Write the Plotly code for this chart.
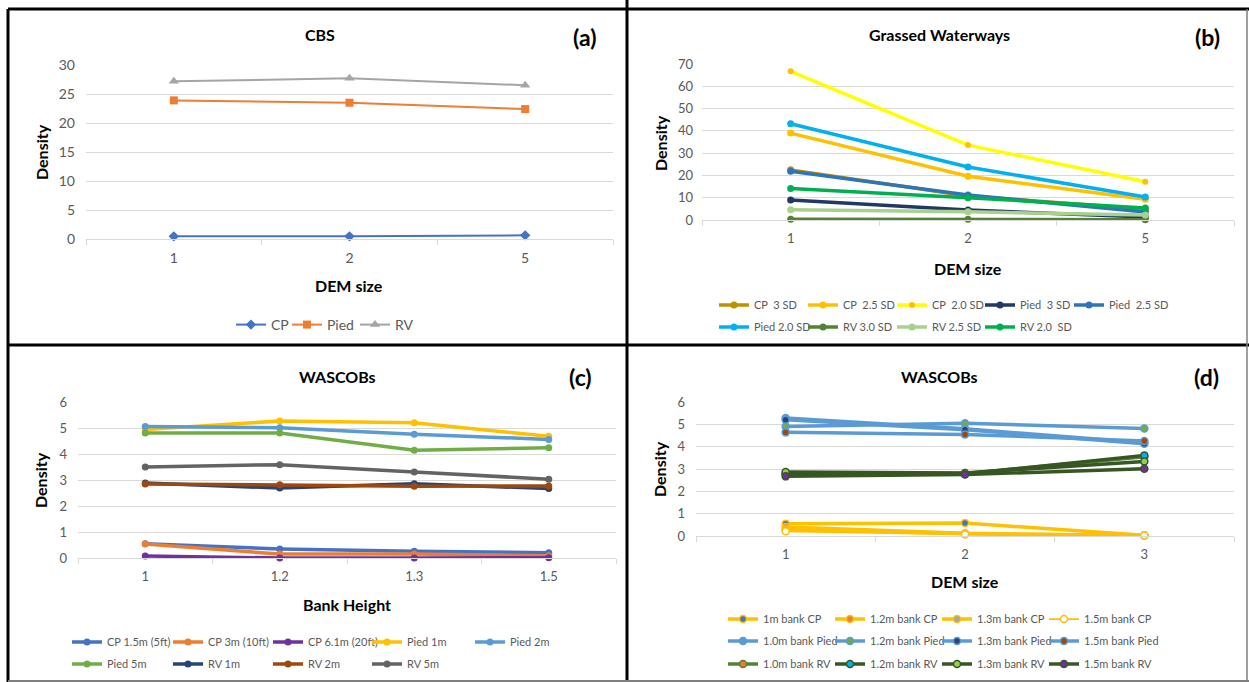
import plotly.graph_objects as go

W, H = 1249, 682
FONT = "Lato"
TICK = "#595959"
GRID = "#d9d9d9"

# ---------------- data ----------------
# (a) CBS
a_cats = ["1", "2", "5"]
a_cp = [0.46, 0.46, 0.63]
a_pied = [23.9, 23.5, 22.4]
a_rv = [27.2, 27.7, 26.5]

# (b) Grassed Waterways
b_cats = ["1", "2", "5"]
b_cp_30 = [22.5, 10.8, 4.8]
b_cp_25 = [39.0, 19.6, 9.3]
b_cp_20 = [66.7, 33.6, 17.2]
b_pied_30 = [9.0, 4.5, 1.3]
b_pied_25 = [21.9, 11.2, 3.6]
b_pied_20 = [43.2, 23.8, 10.3]
b_rv_30 = [0.3, 0.3, 0.1]
b_rv_25 = [4.6, 3.7, 2.2]
b_rv_20 = [14.1, 10.0, 5.4]

# (c) WASCOBs vs bank height
c_cats = ["1", "1.2", "1.3", "1.5"]
c_cp_15 = [0.55, 0.35, 0.26, 0.20]
c_cp_3 = [0.54, 0.15, 0.15, 0.09]
c_cp_61 = [0.08, 0.0, 0.0, 0.01]
c_pied_1 = [4.94, 5.27, 5.20, 4.68]
c_pied_2 = [5.06, 5.01, 4.76, 4.56]
c_pied_5 = [4.81, 4.81, 4.14, 4.24]
c_rv_1 = [2.88, 2.69, 2.86, 2.67]
c_rv_2 = [2.85, 2.82, 2.76, 2.77]
c_rv_5 = [3.50, 3.59, 3.31, 3.03]

# (d) WASCOBs vs DEM size
d_cats = ["1", "2", "3"]
d_cp_10 = [0.55, 0.58, 0.03]
d_cp_12 = [0.40, 0.12, 0.02]
d_cp_13 = [0.30, 0.10, 0.02]
d_cp_15 = [0.21, 0.07, 0.02]
d_pied_10 = [5.28, 4.80, 4.18]
d_pied_12 = [4.90, 5.05, 4.81]
d_pied_13 = [5.20, 4.76, 4.13]
d_pied_15 = [4.64, 4.55, 4.25]
d_rv_10 = [2.80, 2.80, 3.55]
d_rv_12 = [2.75, 2.78, 3.61]
d_rv_13 = [2.87, 2.82, 3.34]
d_rv_15 = [2.67, 2.75, 3.01]


def px(x):
    return x / W


def py(y):
    return 1 - y / H


fig = go.Figure()
legends = {}


def new_legend(xl, yc, fs):
    """One legend box per entry, so every entry sits exactly where it should."""
    name = "legend" if not legends else "legend%d" % (len(legends) + 1)
    legends[name] = dict(
        x=px(xl - 6), y=py(yc), xanchor="left", yanchor="middle", orientation="h",
        font=dict(family=FONT, size=fs, color=TICK), bgcolor="rgba(0,0,0,0)",
        itemwidth=30, tracegroupgap=0, borderwidth=0,
    )
    return name


def add(xa, ya, cats, vals, name, color, leg, width=3.5, symbol="circle",
        msize=7, mcolor=None, mline=None):
    fig.add_trace(go.Scatter(
        x=cats, y=vals, name=name, mode="lines+markers",
        xaxis=xa, yaxis=ya, legend=new_legend(*leg), cliponaxis=False,
        line=dict(color=color, width=width),
        marker=dict(symbol=symbol, size=msize, color=mcolor or color,
                    line=dict(color=mline or (mcolor or color), width=1.5 if mline else 0)),
    ))


# legend entry positions (left end of symbol, row centre, font size)
A_Y = 325
B_COL, B_ROW = [720, 809, 898, 986, 1075], [305, 327]
C_COL, C_ROW = [73, 174, 274, 373, 476], [642, 664]
D_COL, D_ROW = [729, 836, 943, 1050], [619, 641, 664]

# (a)
add("x", "y", a_cats, a_cp, "CP", "#4472c4", (237, A_Y, 14), width=2, symbol="diamond", msize=8)
add("x", "y", a_cats, a_pied, "Pied", "#ed7d31", (293, A_Y, 14), width=2, symbol="square", msize=8)
add("x", "y", a_cats, a_rv, "RV", "#a5a5a5", (361, A_Y, 14), width=2, symbol="triangle-up", msize=9)

# (b)
add("x2", "y2", b_cats, b_cp_30, "CP  3 SD", "#bf9000", (B_COL[0], B_ROW[0], 11))
add("x2", "y2", b_cats, b_cp_25, "CP  2.5 SD", "#ffc000", (B_COL[1], B_ROW[0], 11))
add("x2", "y2", b_cats, b_cp_20, "CP  2.0 SD", "#ffff00", (B_COL[2], B_ROW[0], 11), msize=6, mcolor="#ffc000")
add("x2", "y2", b_cats, b_pied_30, "Pied  3 SD", "#1f3864", (B_COL[3], B_ROW[0], 11))
add("x2", "y2", b_cats, b_pied_25, "Pied  2.5 SD", "#2e75b6", (B_COL[4], B_ROW[0], 11))
add("x2", "y2", b_cats, b_pied_20, "Pied 2.0 SD", "#00b0f0", (B_COL[0], B_ROW[1], 11))
add("x2", "y2", b_cats, b_rv_30, "RV 3.0 SD", "#548235", (B_COL[1], B_ROW[1], 11))
add("x2", "y2", b_cats, b_rv_25, "RV 2.5 SD", "#a9d18e", (B_COL[2], B_ROW[1], 11))
add("x2", "y2", b_cats, b_rv_20, "RV 2.0  SD", "#00b050", (B_COL[3], B_ROW[1], 11))

# (c)
add("x3", "y3", c_cats, c_cp_15, "CP 1.5m (5ft)", "#4472c4", (C_COL[0], C_ROW[0], 11))
add("x3", "y3", c_cats, c_cp_3, "CP 3m (10ft)", "#ed7d31", (C_COL[1], C_ROW[0], 11))
add("x3", "y3", c_cats, c_cp_61, "CP 6.1m (20ft)", "#7030a0", (C_COL[2], C_ROW[0], 11))
add("x3", "y3", c_cats, c_pied_1, "Pied 1m", "#ffc000", (C_COL[3], C_ROW[0], 11))
add("x3", "y3", c_cats, c_pied_2, "Pied 2m", "#5b9bd5", (C_COL[4], C_ROW[0], 11))
add("x3", "y3", c_cats, c_pied_5, "Pied 5m", "#70ad47", (C_COL[0], C_ROW[1], 11))
add("x3", "y3", c_cats, c_rv_1, "RV 1m", "#264478", (C_COL[1], C_ROW[1], 11))
add("x3", "y3", c_cats, c_rv_2, "RV 2m", "#9e480e", (C_COL[2], C_ROW[1], 11))
add("x3", "y3", c_cats, c_rv_5, "RV 5m", "#636363", (C_COL[3], C_ROW[1], 11))

# (d)
CPC, PIC, RVC1, RVC = "#ffc000", "#5b9bd5", "#548235", "#375623"
add("x4", "y4", d_cats, d_pied_10, "1.0m bank Pied", PIC, (D_COL[0], D_ROW[1], 11), mcolor=PIC, mline=PIC)
add("x4", "y4", d_cats, d_pied_12, "1.2m bank Pied", PIC, (D_COL[1], D_ROW[1], 11), mcolor="#70ad47", mline=PIC)
add("x4", "y4", d_cats, d_pied_13, "1.3m bank Pied", PIC, (D_COL[2], D_ROW[1], 11), mcolor="#264478", mline=PIC)
add("x4", "y4", d_cats, d_pied_15, "1.5m bank Pied", PIC, (D_COL[3], D_ROW[1], 11), mcolor="#9e480e", mline=PIC)
add("x4", "y4", d_cats, d_rv_10, "1.0m bank RV", RVC1, (D_COL[0], D_ROW[2], 11), mcolor="#ed7d31", mline=RVC1)
add("x4", "y4", d_cats, d_rv_12, "1.2m bank RV", RVC, (D_COL[1], D_ROW[2], 11), mcolor="#00b0f0", mline=RVC)
add("x4", "y4", d_cats, d_rv_13, "1.3m bank RV", RVC, (D_COL[2], D_ROW[2], 11), mcolor="#92d050", mline=RVC)
add("x4", "y4", d_cats, d_rv_15, "1.5m bank RV", RVC, (D_COL[3], D_ROW[2], 11), mcolor="#7030a0", mline=RVC)
add("x4", "y4", d_cats, d_cp_10, "1m bank CP", CPC, (D_COL[0], D_ROW[0], 11), mcolor="#4472c4", mline=CPC)
add("x4", "y4", d_cats, d_cp_12, "1.2m bank CP", CPC, (D_COL[1], D_ROW[0], 11), mcolor="#ed7d31", mline=CPC)
add("x4", "y4", d_cats, d_cp_13, "1.3m bank CP", CPC, (D_COL[2], D_ROW[0], 11), mcolor="#a5a5a5", mline=CPC)
add("x4", "y4", d_cats, d_cp_15, "1.5m bank CP", CPC, (D_COL[3], D_ROW[0], 11), width=1.75, mcolor="#ffffff", mline=CPC)

# ---------------- axes ----------------
panels = {
    # name: (x0, x1, y0, y1, ymax, dtick, ncats, tickfont size, y label standoff)
    "1": (86, 613, 65, 239, 30, 5, 3, 14, 10),
    "2": (702, 1234, 64, 220, 70, 10, 3, 13, 8),
    "3": (78, 616, 402, 558, 6, 1, 4, 13, 10),
    "4": (696, 1234, 402, 536, 6, 1, 3, 13, 10),
}
layout_axes = {}
for k, (x0, x1, y0, y1, ymax, dt, n, fs, ystand) in panels.items():
    sfx = "" if k == "1" else k
    layout_axes["xaxis" + sfx] = dict(
        domain=[px(x0), px(x1)], anchor="y" + sfx, type="category",
        range=[-0.5, n - 0.5], showgrid=False, showline=True, linecolor=GRID,
        linewidth=1, ticks="outside", tickson="boundaries", ticklen=5,
        tickcolor=GRID, tickfont=dict(family=FONT, size=fs, color=TICK),
        ticklabelstandoff=6, fixedrange=True, zeroline=False, automargin=False,
    )
    layout_axes["yaxis" + sfx] = dict(
        domain=[py(y1), py(y0)], anchor="x" + sfx, range=[0, ymax], dtick=dt,
        showgrid=True, gridcolor=GRID, gridwidth=1, zeroline=False,
        showline=False, ticks="", tickfont=dict(family=FONT, size=fs, color=TICK),
        ticklabelstandoff=ystand, fixedrange=True, automargin=False,
    )

# ---------------- annotations ----------------
ann = []


def text(x, y, s, size, angle=0, color="black"):
    ann.append(dict(x=px(x), y=py(y), xref="paper", yref="paper", text=s,
                    showarrow=False, textangle=angle, xanchor="center", yanchor="middle",
                    font=dict(family=FONT, size=size, color=color)))


text(320, 35, "<b>CBS</b>", 16)
text(939, 35, "<b>Grassed Waterways</b>", 16)
text(337, 377, "<b>WASCOBs</b>", 16)
text(939, 377, "<b>WASCOBs</b>", 16)
text(584, 37, "<b>(a)</b>", 23)
text(1207, 37, "<b>(b)</b>", 23)
text(580, 377, "<b>(c)</b>", 23)
text(1206, 377, "<b>(d)</b>", 23)
text(349, 285, "<b>DEM size</b>", 16)
text(968, 268, "<b>DEM size</b>", 16)
text(347, 604, "<b>Bank Height</b>", 16)
text(965, 581, "<b>DEM size</b>", 16)
text(41, 152, "<b>Density</b>", 16, angle=-90)
text(660, 143, "<b>Density</b>", 16, angle=-90)
text(40, 480, "<b>Density</b>", 16, angle=-90)
text(659, 469, "<b>Density</b>", 16, angle=-90)

# ---------------- panel borders ----------------
shapes = []


def line(x0, y0, x1, y1, color="black", width=3):
    shapes.append(dict(type="line", xref="paper", yref="paper",
                       x0=px(x0), y0=py(y0), x1=px(x1), y1=py(y1),
                       line=dict(color=color, width=width)))


line(8, 9, 8, 682)
line(627, 0, 627, 682)
line(8, 9, 1249, 9)
line(8, 345, 1249, 345)
line(8, 681, 1249, 681, color="#7f7f7f", width=2)
line(1247, 9, 1247, 681, color="#7f7f7f", width=1.5)

fig.update_layout(
    width=W, height=H, autosize=False,
    margin=dict(l=0, r=0, t=0, b=0, autoexpand=False),
    paper_bgcolor="white", plot_bgcolor="white",
    font=dict(family=FONT, color=TICK),
    annotations=ann, shapes=shapes, showlegend=True,
    **layout_axes, **legends,
)

fig.write_html(
    "out.html",
    config={"displayModeBar": False, "responsive": False},
    post_script="document.documentElement.style.margin='0px';"
                "document.documentElement.style.padding='0px';"
                "document.body.style.margin='0px';"
                "document.body.style.padding='0px';"
                "document.documentElement.style.overflow='hidden';"
                "document.body.style.overflow='hidden';",
)
